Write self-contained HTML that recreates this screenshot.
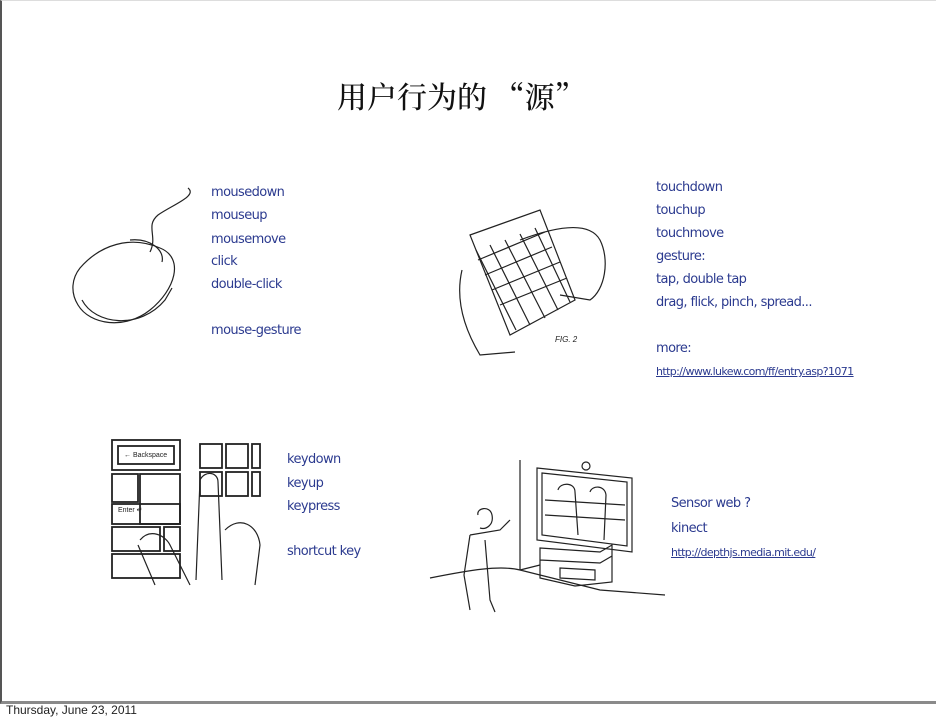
<!DOCTYPE html>
<html><head><meta charset="utf-8"><style>
html,body{margin:0;padding:0;background:#fff;}
body{width:936px;height:720px;position:relative;overflow:hidden;font-family:"Liberation Sans",sans-serif;}
.frame{position:absolute;left:0;top:0;width:934px;height:700px;border-left:2px solid #555;border-bottom:3px solid #8a8a8a;border-top:1px solid #ddd;}
.t{position:absolute;color:#2b3a8f;font-family:"DejaVu Sans","Liberation Sans",sans-serif;font-size:13px;letter-spacing:-0.6px;line-height:16px;white-space:nowrap;}
.u{text-decoration:underline;font-size:11px;letter-spacing:-0.6px;}
.title{position:absolute;left:337px;top:73px;font-family:"Noto Serif CJK SC","Liberation Serif",serif;font-size:30px;letter-spacing:0px;color:#111;white-space:nowrap;font-weight:500;}
.foot{position:absolute;left:6px;top:703px;font-size:12px;color:#222;}
svg{position:absolute;left:0;top:0;}
</style></head><body>
<div class="frame"></div>
<div class="title">用户行为的 “源”</div>

<svg width="936" height="720" fill="none" stroke="#222" stroke-width="1.2">
<path d="M188 188 C198 196 172 205 158 215 C145 226 158 236 150 252"/>
<path d="M80 268 C100 245 130 235 160 248 C185 258 175 290 150 310 C125 330 90 325 78 305 C70 292 72 278 80 268Z"/>
<path d="M82 300 C95 325 140 330 165 300 L172 288"/>
<path d="M130 240 C150 238 165 250 162 262"/>
<path d="M470 235 L540 210 L575 300 L510 335 Z"/>
<path d="M476 250 L516 330 M490 245 L530 325 M505 240 L545 318 M520 234 L558 310 M535 228 L570 302"/>
<path d="M478 260 L545 232 M485 275 L552 247 M492 290 L560 262 M500 305 L567 278"/>
<path d="M520 240 C560 225 590 222 600 240 C610 260 605 290 590 300 L560 295"/>
<path d="M462 270 C455 300 465 330 480 355 L515 352"/>
<text x="555" y="342" font-size="8" fill="#222" stroke="none" font-style="italic">FIG. 2</text>
<g stroke-width="1.8">
<rect x="112" y="440" width="68" height="30"/><rect x="118" y="446" width="56" height="18"/>
<rect x="112" y="474" width="26" height="28"/><rect x="140" y="474" width="40" height="50"/>
<rect x="112" y="504" width="68" height="20"/>
<rect x="112" y="527" width="48" height="24"/><rect x="164" y="527" width="16" height="24"/>
<rect x="112" y="554" width="68" height="24"/>
<rect x="200" y="444" width="22" height="24"/><rect x="226" y="444" width="22" height="24"/><rect x="252" y="444" width="8" height="24"/>
<rect x="200" y="472" width="22" height="24"/><rect x="226" y="472" width="22" height="24"/><rect x="252" y="472" width="8" height="24"/>
</g>
<path d="M200 480 C205 470 218 472 218 482 L222 580 M200 480 L196 580"/>
<path d="M140 540 C150 528 165 535 170 545 L190 585 M138 545 L155 585"/>
<path d="M225 530 C240 515 258 525 260 545 L255 585"/>
<text x="124" y="457" font-size="7" fill="#222" stroke="none">← Backspace</text>
<text x="118" y="512" font-size="7" fill="#222" stroke="none">Enter ↵</text>
<path d="M520 460 L520 570 M430 578 C470 570 500 565 520 570 L520 570 L600 590 L665 595 M520 570 L540 565"/>
<path d="M537 468 L632 478 L632 552 L537 540 Z"/><path d="M542 473 L627 482 L627 546 L542 535 Z"/>
<path d="M545 500 L625 505 M545 515 L625 520"/>
<path d="M558 490 C560 482 575 482 575 492 L578 535 M590 492 C592 485 605 485 606 495 L604 540"/>
<circle cx="586" cy="466" r="4"/>
<path d="M540 548 L600 552 L612 545 L612 582 L575 586 L540 578 Z M540 560 L600 563 L612 556 M560 568 L595 570 L595 580 L560 578 Z"/>
<path d="M478 515 C476 508 490 505 492 515 C494 525 486 530 480 528 M470 535 L500 530 L510 520 M470 535 L464 575 L470 610 M485 540 L490 600 L495 612"/>
</svg>

<div class="t" style="left:211px;top:185px">mousedown</div>
<div class="t" style="left:211px;top:208px">mouseup</div>
<div class="t" style="left:211px;top:232px">mousemove</div>
<div class="t" style="left:211px;top:254px">click</div>
<div class="t" style="left:211px;top:277px">double-click</div>
<div class="t" style="left:211px;top:323px">mouse-gesture</div>

<div class="t" style="left:656px;top:180px">touchdown</div>
<div class="t" style="left:656px;top:203px">touchup</div>
<div class="t" style="left:656px;top:226px">touchmove</div>
<div class="t" style="left:656px;top:249px">gesture:</div>
<div class="t" style="left:656px;top:272px">tap, double tap</div>
<div class="t" style="left:656px;top:295px">drag, flick, pinch, spread...</div>
<div class="t" style="left:656px;top:341px">more:</div>
<div class="t u" style="left:656px;top:364px">http://www.lukew.com/ff/entry.asp?1071</div>

<div class="t" style="left:287px;top:452px">keydown</div>
<div class="t" style="left:287px;top:476px">keyup</div>
<div class="t" style="left:287px;top:499px">keypress</div>
<div class="t" style="left:287px;top:544px">shortcut key</div>

<div class="t" style="left:671px;top:496px">Sensor web ?</div>
<div class="t" style="left:671px;top:521px">kinect</div>
<div class="t u" style="left:671px;top:545px">http://depthjs.media.mit.edu/</div>

<div class="foot">Thursday, June 23, 2011</div>
</body></html>
